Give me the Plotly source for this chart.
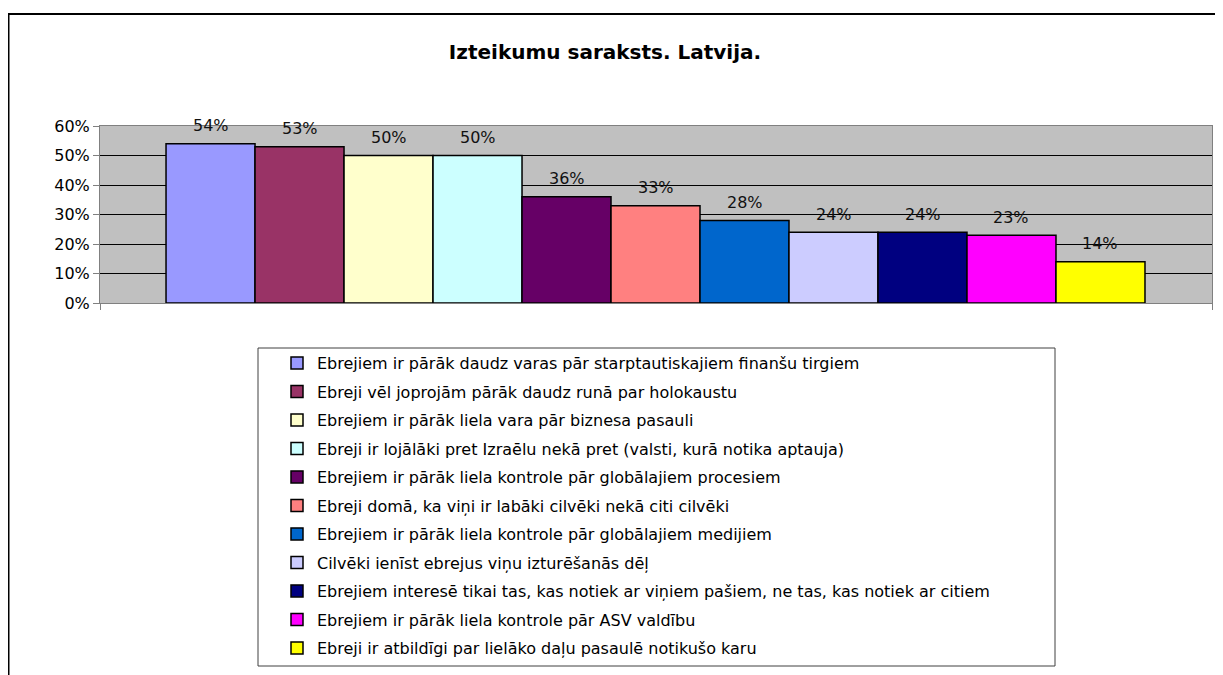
import plotly.graph_objects as go

# ---- data ----
statements = [
    "Ebrejiem ir pārāk daudz varas pār starptautiskajiem finanšu tirgiem",
    "Ebreji vēl joprojām pārāk daudz runā par holokaustu",
    "Ebrejiem ir pārāk liela vara pār biznesa pasauli",
    "Ebreji ir lojālāki pret Izraēlu nekā pret (valsti, kurā notika aptauja)",
    "Ebrejiem ir pārāk liela kontrole pār globālajiem procesiem",
    "Ebreji domā, ka viņi ir labāki cilvēki nekā citi cilvēki",
    "Ebrejiem ir pārāk liela kontrole pār globālajiem medijiem",
    "Cilvēki ienīst ebrejus viņu izturēšanās dēļ",
    "Ebrejiem interesē tikai tas, kas notiek ar viņiem pašiem, ne tas, kas notiek ar citiem",
    "Ebrejiem ir pārāk liela kontrole pār ASV valdību",
    "Ebreji ir atbildīgi par lielāko daļu pasaulē notikušo karu",
]
values = [0.54, 0.53, 0.50, 0.50, 0.36, 0.33, 0.28, 0.24, 0.24, 0.23, 0.14]
colors = ["#9999FF", "#993366", "#FFFFCC", "#CCFFFF", "#660066", "#FF8080",
          "#0066CC", "#CCCCFF", "#000080", "#FF00FF", "#FFFF00"]
y_ticks = [0, 0.1, 0.2, 0.3, 0.4, 0.5, 0.6]
title_text = "Izteikumu saraksts. Latvija."

# the page body has an 8px margin; work in page pixels and convert
OFF = 8
W, H = 1223 - OFF, 675 - OFF
L, R, T, B = 100 - OFF, 1212 - OFF, 126 - OFF, 303 - OFF  # plot area (figure px)


def px(x_page):
    return (x_page - OFF - L) / (R - L)


def py(y_page):
    return (B - (y_page - OFF)) / (B - T)


FONT = "DejaVu Sans, Arial, sans-serif"

fig = go.Figure()
for i, (name, v, c) in enumerate(zip(statements, values, colors)):
    fig.add_trace(go.Bar(
        x=[i], y=[v], width=1, name=name, legendgroup=f"g{i}",
        marker=dict(color=c, line=dict(color="#000000", width=1.5)),
        hoverinfo="name+y",
    ))
    fig.add_annotation(x=i, y=v, text=f"{round(v * 100)}%", showarrow=False,
                       yanchor="middle", yshift=18,
                       font=dict(family=FONT, size=16, color="#111111"))

n = len(values)
pad_l, pad_r = 0.742, 0.753
fig.update_layout(
    width=W, height=H,
    margin=dict(l=L, r=W - R, t=T, b=H - B, autoexpand=False),
    paper_bgcolor="white", plot_bgcolor="#C0C0C0",
    barmode="overlay",
    showlegend=True,
    title=dict(text=f"<b>{title_text}</b>", x=(605 - OFF) / W, xanchor="center",
               y=1 - (52 - OFF) / H, yanchor="middle", yref="container", xref="container",
               font=dict(family=FONT, size=20, color="#000000")),
    font=dict(family=FONT, size=16, color="#000000"),
    xaxis=dict(range=[-0.5 - pad_l, n - 0.5 + pad_r], showgrid=False, zeroline=False,
               showline=True, linecolor="#808080", linewidth=1, mirror=True,
               tickvals=[-0.5 - pad_l, n - 0.5 + pad_r], ticktext=["", ""],
               ticks="outside", ticklen=6, tickcolor="#808080", fixedrange=True),
    yaxis=dict(range=[0, 0.6], tickvals=y_ticks, tickformat=".0%",
               showgrid=True, gridcolor="#000000", gridwidth=1, zeroline=False,
               showline=True, linecolor="#808080", linewidth=1, mirror=True,
               ticks="outside", ticklen=6, tickcolor="#808080",
               tickfont=dict(family=FONT, size=16, color="#000000"), fixedrange=True),
    legend=dict(x=px(277), xanchor="left", y=py(346), yanchor="top",
                bgcolor="rgba(0,0,0,0)", borderwidth=0,
                font=dict(family=FONT, size=16, color="#000000"),
                tracegroupgap=4.7, traceorder="grouped", itemclick=False, itemdoubleclick=False),
    shapes=[
        dict(type="line", xref="paper", yref="paper", x0=px(8), x1=px(1223), y0=py(14), y1=py(14),
             line=dict(color="#000000", width=2)),
        dict(type="line", xref="paper", yref="paper", x0=px(8.5), x1=px(8.5), y0=py(14), y1=py(675),
             line=dict(color="#000000", width=2)),
        dict(type="rect", xref="paper", yref="paper", x0=px(258), x1=px(1055), y0=py(348), y1=py(666),
             line=dict(color="#404040", width=1), fillcolor="rgba(0,0,0,0)"),
    ],
)

fig.write_html("out.html")
